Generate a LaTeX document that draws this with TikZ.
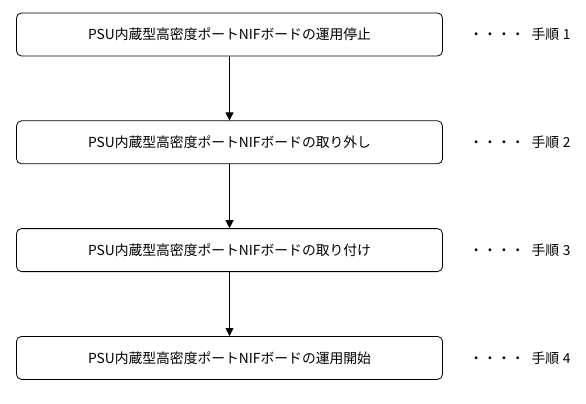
\documentclass[tikz,border=0pt]{standalone}
\usepackage{fontspec}
\setmainfont{Noto Sans CJK JP}
\usetikzlibrary{positioning, arrows.meta}

\begin{document}
\begin{tikzpicture}[
    x=1pt, y=-1pt,
    node distance=64pt,
    stepbox/.style={rectangle, draw=black, line width=0.8pt, rounded corners=5pt, minimum width=426pt, minimum height=43pt, inner sep=0pt, font=\fontsize{13.8pt}{16pt}\selectfont},
    note/.style={font=\fontsize{13.8pt}{16pt}\selectfont},
    arrow/.style={-{Triangle[length=8pt, width=8pt]}, line width=0.8pt},
]
\useasboundingbox (0,0) rectangle (586,404);

% Steps
\node[stepbox] (step1) at (229.5,34.5) {PSU内蔵型高密度ポートNIFボードの運用停止};
\node[stepbox, below=of step1] (step2) {PSU内蔵型高密度ポートNIFボードの取り外し};
\node[stepbox, below=of step2] (step3) {PSU内蔵型高密度ポートNIFボードの取り付け};
\node[stepbox, below=of step3] (step4) {PSU内蔵型高密度ポートNIFボードの運用開始};

% Step numbers
\node[note, right=23pt of step1] (note1) {・・・・\enspace 手順\;1};
\node[note, right=23pt of step2] (note2) {・・・・\enspace 手順\;2};
\node[note, right=23pt of step3] (note3) {・・・・\enspace 手順\;3};
\node[note, right=23pt of step4] (note4) {・・・・\enspace 手順\;4};

% Arrows
\draw[arrow] (step1) -- (step2);
\draw[arrow] (step2) -- (step3);
\draw[arrow] (step3) -- (step4);

\end{tikzpicture}
\end{document}
